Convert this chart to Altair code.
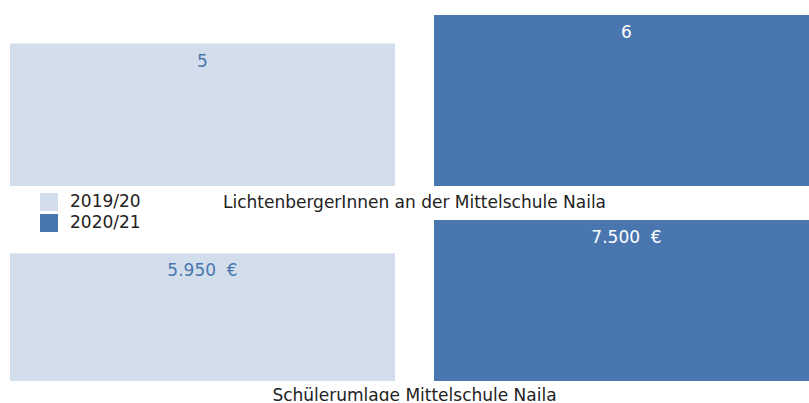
import altair as alt
import pandas as pd

years = ["2019/20", "2020/21"]
students = [5, 6]
fees = [5950, 7500]
student_labels = ["5", "6"]
fee_labels = ["5.950\u00a0\u00a0€", "7.500\u00a0\u00a0€"]
titles = ["LichtenbergerInnen an der Mittelschule Naila", "Schülerumlage Mittelschule Naila"]

LIGHT = "#d3deec"
DARK = "#4a76af"
FONT = "DejaVu Sans"
INK = "#222222"


def panel(values, labels, title, height, ymax, legend, title_offset):
    df = pd.DataFrame({"year": years, "value": values, "label": labels})
    base = alt.Chart(df).encode(
        x=alt.X("year:N", axis=None, sort=years,
                scale=alt.Scale(range=[0, 809], paddingInner=0.092, paddingOuter=0)),
        y=alt.Y("value:Q", axis=None,
                scale=alt.Scale(domain=[0, ymax], nice=False, zero=True)),
    )
    bars = base.mark_bar(clip=True).encode(
        color=alt.Color("year:N", scale=alt.Scale(domain=years, range=[LIGHT, DARK]),
                        legend=legend)
    )
    text = base.mark_text(baseline="middle", dy=18, fontSize=17, font=FONT, clip=True).encode(
        text="label:N",
        color=alt.condition(alt.datum.year == years[0], alt.value(DARK), alt.value("#ffffff")),
    )
    return alt.layer(bars, text).properties(
        width=799, height=height,
        title=alt.TitleParams(title, orient="bottom", offset=title_offset, fontSize=17,
                              font=FONT, fontWeight="normal", color=INK, dx=5),
    )


legend = alt.Legend(title=None, orient="none", legendX=30, legendY=178,
                    symbolType="square", symbolSize=324, symbolStrokeWidth=0,
                    labelFontSize=17, labelFont=FONT, labelColor=INK,
                    rowPadding=3, labelOffset=12)

top = panel(students, student_labels, titles[0], 171, 6, legend, 9)
bottom = panel(fees, fee_labels, titles[1], 161, 7500, None, 7)

chart = alt.vconcat(top, bottom, spacing=9).properties(
    padding={"left": 10, "top": 15, "right": 0, "bottom": -3}
).configure_view(stroke=None)

chart.save("out.html", embed_options={"renderer": "svg", "actions": False})
